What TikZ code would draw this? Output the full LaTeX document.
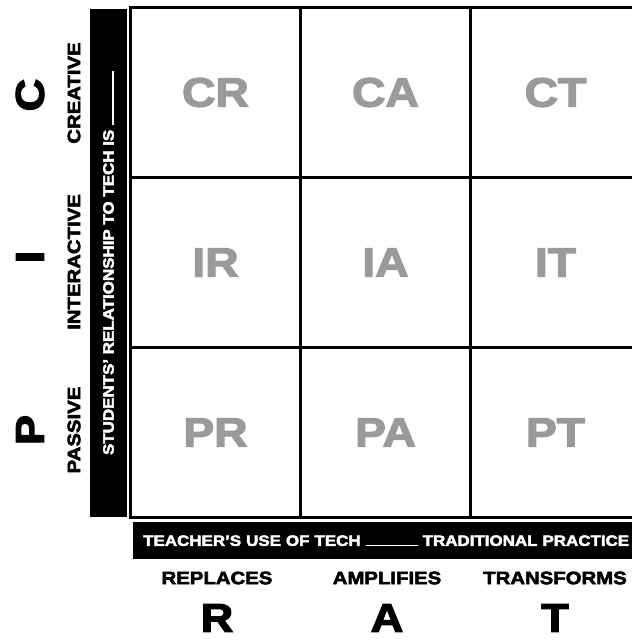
\documentclass[tikz,border=0pt]{standalone}
\usepackage{fontspec}
\newfontfamily\ratfont{Liberation Sans}[FakeStretch=1.13, BoldFeatures={FakeBold=3}]
\definecolor{celltext}{HTML}{9A9A9A}

\begin{document}
\begin{tikzpicture}[x=1pt, y=-1pt,
    cell/.style={draw, line width=2.4pt, minimum width=170pt, minimum height=170pt, inner sep=0pt,
        text=celltext, font=\ratfont\bfseries\fontsize{41}{41}\selectfont},
    blackbar/.style={fill=black, text=white, inner sep=0pt,
        font=\ratfont\bfseries\fontsize{15}{15}\selectfont},
    sidelabel/.style={inner sep=0pt, font=\ratfont\bfseries\fontsize{18}{18}\selectfont},
    bigletter/.style={inner sep=0pt, font=\ratfont\bfseries\fontsize{40}{40}\selectfont}]

    % Fix the frame to the size of the picture
    \useasboundingbox (0,0) rectangle (632,641);
    \clip (0,0) rectangle (632,641);

    % The nine cells of the grid (rows P, I, C against columns R, A, T)
    \node[cell] (cr) at (215.5,92.5) {CR};
    \node[cell] (ca) at (385.5,92.5) {CA};
    \node[cell] (ct) at (555.5,92.5) {CT};
    \node[cell] (ir) at (215.5,262.5) {IR};
    \node[cell] (ia) at (385.5,262.5) {IA};
    \node[cell] (it) at (555.5,262.5) {IT};
    \node[cell] (pr) at (215.5,432.5) {PR};
    \node[cell] (pa) at (385.5,432.5) {PA};
    \node[cell] (pt) at (555.5,432.5) {PT};

    % Black bar on the left, read from the bottom up
    \node[blackbar, rotate=90, minimum width=508pt, minimum height=37pt] (studbar) at (108.5,263)
        {STUDENTS’ RELATIONSHIP TO TECH IS \rule{54pt}{1.2pt}};

    % Black bar below the grid
    \node[blackbar, anchor=north west, minimum height=37pt, text width=490pt, inner xsep=10pt, align=left] (teachbar) at (133,522)
        {TEACHER’S USE OF TECH \rule{52pt}{1.2pt} TRADITIONAL PRACTICE};

    % Row labels on the left
    \node[sidelabel, rotate=90] (creative) at (74,93) {CREATIVE};
    \node[sidelabel, rotate=90] (interactive) at (74,262) {INTERACTIVE};
    \node[sidelabel, rotate=90] (passive) at (74,430) {PASSIVE};
    \node[bigletter, rotate=90] (c) at (30,95) {C};
    \node[bigletter, rotate=90] (i) at (30,257) {I};
    \node[bigletter, rotate=90] (p) at (30,430) {P};

    % Column labels below
    \node[sidelabel] (replaces) at (217,578) {REPLACES};
    \node[sidelabel] (amplifies) at (387,578) {AMPLIFIES};
    \node[sidelabel] (transforms) at (555,578) {TRANSFORMS};
    \node[bigletter] (r) at (217,618) {R};
    \node[bigletter] (a) at (387,618) {A};
    \node[bigletter] (t) at (555,618) {T};

\end{tikzpicture}
\end{document}
